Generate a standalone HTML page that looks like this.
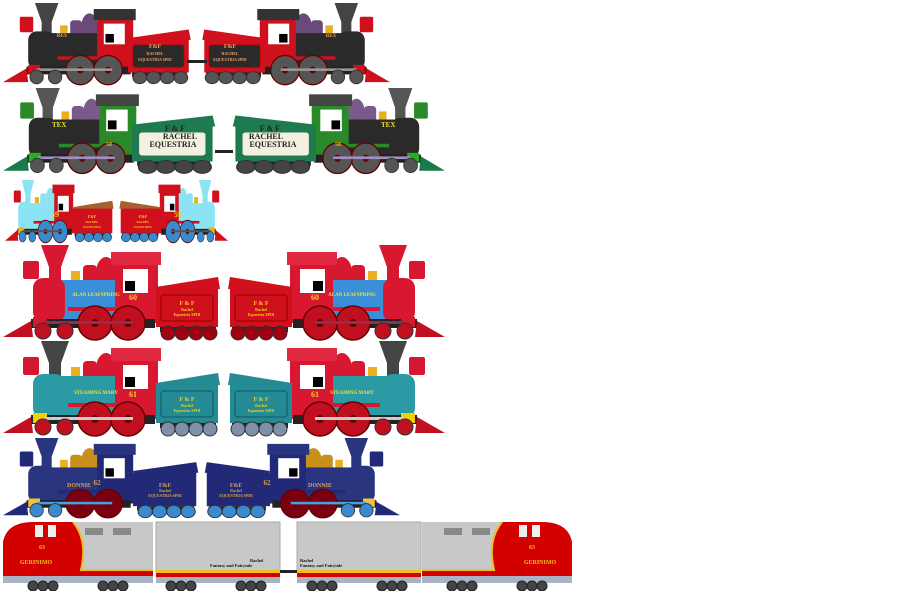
<!DOCTYPE html>
<html><head><meta charset="utf-8"><style>
html,body{margin:0;padding:0;background:#fff;}
svg{display:block}
text{font-family:"Liberation Serif",serif;font-weight:bold;}
</style></head><body>
<svg width="900" height="591" viewBox="0 0 900 591" xmlns="http://www.w3.org/2000/svg">
<defs>
<g id="loco">
  <polygon points="38,0 66,0 58,22 58,40 46,40 46,22" fill="var(--s)"/>
  <rect x="20" y="16" width="16" height="18" rx="2" fill="var(--c)"/>
  <rect x="68" y="26" width="9" height="12" fill="#e8b020"/>
  <rect x="80" y="20" width="14" height="20" rx="4" fill="var(--d)"/>
  <ellipse cx="103" cy="28" rx="10" ry="16" fill="var(--d)"/>
  <rect x="35" y="35" width="80" height="40" fill="var(--b)"/>
  <rect x="30" y="33" width="32" height="44" rx="10" fill="var(--f)"/>
  <rect x="65" y="62" width="85" height="4" fill="var(--c)"/>
  <rect x="112" y="12" width="43" height="66" fill="var(--c)"/>
  <rect x="108" y="7" width="50" height="13" fill="var(--r)"/>
  <rect x="120" y="24" width="25" height="24" fill="#fff"/>
  <rect x="122" y="36" width="10" height="10" fill="#000"/>
  <rect x="28" y="74" width="124" height="9" fill="#222"/>
  <rect x="30" y="72" width="14" height="10" fill="var(--y)"/>
  <circle cx="92" cy="78" r="17" fill="var(--w)" stroke="#600" stroke-width="1.5"/>
  <circle cx="125" cy="78" r="17" fill="var(--w)" stroke="#600" stroke-width="1.5"/>
  <circle cx="92" cy="78" r="4" fill="#600"/><circle cx="125" cy="78" r="4" fill="#600"/>
  <rect x="40" y="76" width="90" height="3" fill="var(--rod)"/>
  <circle cx="40" cy="86" r="8" fill="var(--sw)" stroke="#333"/>
  <circle cx="62" cy="86" r="8" fill="var(--sw)" stroke="#333"/>
  <polygon points="0,92 28,76 30,92" fill="var(--cc)"/>
</g>
<g id="tender">
  <polygon points="0,42 62,32 64,44 2,48" fill="var(--t2)"/>
  <rect x="0" y="44" width="62" height="38" fill="var(--t)"/>
  <rect x="5" y="50" width="52" height="26" rx="3" fill="var(--p)" stroke="var(--ps)" stroke-width="1"/>
  <rect x="4" y="82" width="56" height="5" fill="#222"/>
  <circle cx="12" cy="88" r="7" fill="var(--tw)" stroke="#333"/>
  <circle cx="26" cy="88" r="7" fill="var(--tw)" stroke="#333"/>
  <circle cx="40" cy="88" r="7" fill="var(--tw)" stroke="#333"/>
  <circle cx="54" cy="88" r="7" fill="var(--tw)" stroke="#333"/>
</g>
<g id="diesel">
  <path d="M0,22 Q4,2 30,2 L150,2 L150,56 L0,56 Z" fill="#c8c8c8"/>
  <path d="M0,22 Q4,2 30,2 L70,2 Q85,20 78,50 L150,50 L150,56 L0,56 Z" fill="#d40000"/>
  <path d="M70,2 Q85,20 78,50 L150,50" fill="none" stroke="#f0c020" stroke-width="2"/>
  <rect x="82" y="8" width="18" height="7" fill="#888"/><rect x="110" y="8" width="18" height="7" fill="#888"/>
  <rect x="32" y="5" width="8" height="12" fill="#eee"/><rect x="45" y="5" width="8" height="12" fill="#eee"/>
  <rect x="0" y="56" width="150" height="7" fill="#a8b4c4"/>
  <g fill="#444" stroke="#222"><circle cx="30" cy="66" r="5"/><circle cx="40" cy="66" r="5"/><circle cx="50" cy="66" r="5"/><circle cx="100" cy="66" r="5"/><circle cx="110" cy="66" r="5"/><circle cx="120" cy="66" r="5"/></g>
</g>
<g id="coach">
  <rect x="0" y="2" width="124" height="50" fill="#c8c8c8" stroke="#aaa"/>
  <rect x="0" y="50" width="124" height="3" fill="#f0c020"/>
  <rect x="0" y="53" width="124" height="4" fill="#d40000"/>
  <rect x="0" y="57" width="124" height="6" fill="#a8b4c4"/>
  <g fill="#444" stroke="#222"><circle cx="15" cy="66" r="5"/><circle cx="25" cy="66" r="5"/><circle cx="35" cy="66" r="5"/><circle cx="85" cy="66" r="5"/><circle cx="95" cy="66" r="5"/><circle cx="105" cy="66" r="5"/></g>
</g>
</defs>

<!-- Row 1 -->
<g style="--s:#444;--c:#d0101c;--d:#6a4a7a;--b:#2a2a2a;--f:#2a2a2a;--r:#333;--y:#d0101c;--w:#555;--sw:#555;--rod:#999;--cc:#d0101c;--t:#d0101c;--t2:#d0101c;--p:#2a2a2a;--ps:#a00;--tw:#555">
<use href="#loco" transform="translate(3,3) scale(0.84,0.86)"/>
<use href="#tender" transform="translate(128,2) scale(0.98,0.86)"/>
<use href="#loco" transform="translate(393,0) scale(-1,1) translate(3,3) scale(0.84,0.86)"/>
<use href="#tender" transform="translate(393,0) scale(-1,1) translate(128,2) scale(0.98,0.86)"/>
</g>
<rect x="187" y="60" width="20" height="3" fill="#222"/>
<!-- Row 2 -->
<g style="--s:#555;--c:#2a8a2a;--d:#7a5a8a;--b:#2a2a2a;--f:#2a2a2a;--r:#444;--y:#20b020;--w:#555;--sw:#555;--rod:#a090c0;--cc:#1a7a4a;--t:#1f7a52;--t2:#1f7a52;--p:#f4f0e0;--ps:#1f7a52;--tw:#444">
<use href="#loco" transform="translate(3,88) scale(0.86,0.9)"/>
<use href="#tender" transform="translate(132,86) scale(1.3,0.92)"/>
<use href="#loco" transform="translate(448,0) scale(-1,1) translate(3,88) scale(0.86,0.9)"/>
<use href="#tender" transform="translate(448,0) scale(-1,1) translate(132,86) scale(1.3,0.92)"/>
</g>
<rect x="215" y="150" width="18" height="3" fill="#222"/>
<!-- Row 3 -->
<g style="--s:#8ae4f4;--c:#d0101c;--d:#8ae4f4;--b:#8ae4f4;--f:#8ae4f4;--r:#d0101c;--y:#e8b020;--w:#3a8ad0;--sw:#3a8ad0;--rod:#555;--cc:#d0101c;--t:#d0101c;--t2:#a86030;--p:#d0101c;--ps:#d0101c;--tw:#3a8ad0">
<use href="#loco" transform="translate(5,180) scale(0.44,0.66)"/>
<use href="#tender" transform="translate(72,180) scale(0.65,0.65)"/>
<use href="#loco" transform="translate(233,0) scale(-1,1) translate(5,180) scale(0.44,0.66)"/>
<use href="#tender" transform="translate(233,0) scale(-1,1) translate(72,180) scale(0.65,0.65)"/>
</g>
<!-- Row 4 -->
<g style="--s:#d81830;--c:#d81830;--d:#d81830;--b:#3a90d8;--f:#d81830;--r:#e02840;--y:#d81830;--w:#c01020;--sw:#c01020;--rod:#903050;--cc:#c01020;--t:#d0101c;--t2:#d0101c;--p:#d0101c;--ps:#900;--tw:#a00010">
<use href="#loco" transform="translate(3,245)"/>
<use href="#tender" transform="translate(156,245)"/>
<use href="#loco" transform="translate(448,0) scale(-1,1) translate(3,245)"/>
<use href="#tender" transform="translate(448,0) scale(-1,1) translate(156,245)"/>
</g>
<!-- Row 5 -->
<g style="--s:#444;--c:#d81830;--d:#d81830;--b:#2a9aa4;--f:#2a9aa4;--r:#e02840;--y:#f0d000;--w:#c01020;--sw:#c01020;--rod:#ccc;--cc:#c01020;--t:#248a94;--t2:#248a94;--p:#248a94;--ps:#156;--tw:#8090a8">
<use href="#loco" transform="translate(3,341)"/>
<use href="#tender" transform="translate(156,341)"/>
<use href="#loco" transform="translate(448,0) scale(-1,1) translate(3,341)"/>
<use href="#tender" transform="translate(448,0) scale(-1,1) translate(156,341)"/>
</g>
<!-- Row 6 -->
<g style="--s:#2a3580;--c:#222a78;--d:#c8901a;--b:#2a3580;--f:#2a3580;--r:#2a3580;--y:#f0c040;--w:#7a0010;--sw:#3a8ad0;--rod:#4aa0e0;--cc:#222a78;--t:#222a78;--t2:#222a78;--p:#222a78;--ps:#222a78;--tw:#3a8ad0">
<use href="#loco" transform="translate(3,438) scale(0.84,0.84)"/>
<use href="#tender" transform="translate(133,434) scale(1.02,0.88)"/>
<use href="#loco" transform="translate(403,0) scale(-1,1) translate(3,438) scale(0.84,0.84)"/>
<use href="#tender" transform="translate(403,0) scale(-1,1) translate(133,434) scale(1.02,0.88)"/>
</g>
<!-- Row 7 -->
<use href="#diesel" transform="translate(3,520)"/>
<use href="#coach" transform="translate(156,520)"/>
<use href="#coach" transform="translate(297,520)"/>
<use href="#diesel" transform="translate(575,0) scale(-1,1) translate(3,520)"/>
<rect x="280" y="570" width="17" height="3" fill="#222"/>

<!-- Labels -->
<g fill="#e8a060" font-size="6" text-anchor="middle">
<text x="155" y="48">F&amp;F</text><text x="155" y="55" font-size="4">RACHEL</text><text x="155" y="61" font-size="4">EQUESTRIA SPDI</text>
<text x="230" y="48">F&amp;F</text><text x="230" y="55" font-size="4">RACHEL</text><text x="230" y="61" font-size="4">EQUESTRIA SPDI</text>
<text x="62" y="37" font-size="5">REX</text><text x="331" y="37" font-size="5">REX</text>
</g>
<g fill="#222" font-size="8" text-anchor="middle" font-family="Liberation Mono">
<text x="175" y="131">F &amp; F</text><text x="180" y="139">RACHEL</text><text x="173" y="147">EQUESTRIA</text>
<text x="270" y="131">F &amp; F</text><text x="266" y="139">RACHEL</text><text x="273" y="147">EQUESTRIA</text>
</g>
<g fill="#e8e020" font-size="7"><text x="52" y="127">TEX</text><text x="381" y="127">TEX</text></g>
<g fill="#e8c000" font-size="6"><text x="106" y="146">58</text><text x="335" y="146">58</text></g>
<g fill="#f0d020" font-size="8" text-anchor="middle">
<text x="55" y="217">59</text><text x="178" y="217">59</text>
<text x="92" y="218" font-size="4">F&amp;F</text><text x="92" y="223" font-size="3">RACHEL</text><text x="92" y="228" font-size="3">EQUESTRIA</text>
<text x="143" y="218" font-size="4">F&amp;F</text><text x="143" y="223" font-size="3">RACHEL</text><text x="143" y="228" font-size="3">EQUESTRIA</text>
</g>
<g fill="#f0e040" font-size="5" text-anchor="middle">
<text x="96" y="296">ALAN LEAFSPRING</text><text x="352" y="296">ALAN LEAFSPRING</text>
<text x="96" y="394">STEAMING MARY</text><text x="352" y="394">STEAMING MARY</text>
</g>
<g fill="#f0d020" font-size="8" text-anchor="middle">
<text x="133" y="300">60</text><text x="315" y="300">60</text>
<text x="133" y="397">61</text><text x="315" y="397">61</text>
<text x="187" y="305" font-size="6">F &amp; F</text><text x="187" y="311" font-size="4">Rachel</text><text x="187" y="316" font-size="4">Equestria SPDI</text>
<text x="261" y="305" font-size="6">F &amp; F</text><text x="261" y="311" font-size="4">Rachel</text><text x="261" y="316" font-size="4">Equestria SPDI</text>
<text x="187" y="401" font-size="6">F &amp; F</text><text x="187" y="407" font-size="4">Rachel</text><text x="187" y="412" font-size="4">Equestria SPDI</text>
<text x="261" y="401" font-size="6">F &amp; F</text><text x="261" y="407" font-size="4">Rachel</text><text x="261" y="412" font-size="4">Equestria SPDI</text>
</g>
<g fill="#d8a040" font-size="6" text-anchor="middle">
<text x="79" y="487">DONNIE</text><text x="320" y="487">DONNIE</text>
<text x="97" y="485" font-size="7">62</text><text x="267" y="485" font-size="7">62</text>
<text x="165" y="487">F&amp;F</text><text x="165" y="492" font-size="4">Rachel</text><text x="165" y="497" font-size="4">EQUESTRIA SPDI</text>
<text x="236" y="487">F&amp;F</text><text x="236" y="492" font-size="4">Rachel</text><text x="236" y="497" font-size="4">EQUESTRIA SPDI</text>
</g>
<g fill="#f0c020" font-size="6" text-anchor="middle">
<text x="42" y="549">63</text><text x="532" y="549">63</text>
<text x="36" y="564">GERINIMO</text><text x="540" y="564">GERINIMO</text>
</g>
<g fill="#111" font-size="4.5" font-family="Liberation Mono">
<text x="250" y="562">Rachel</text><text x="210" y="567">Fantasy and Fairytale</text>
<text x="300" y="562">Rachel</text><text x="300" y="567">Fantasy and Fairytale</text>
</g>
</svg>
</body></html>
